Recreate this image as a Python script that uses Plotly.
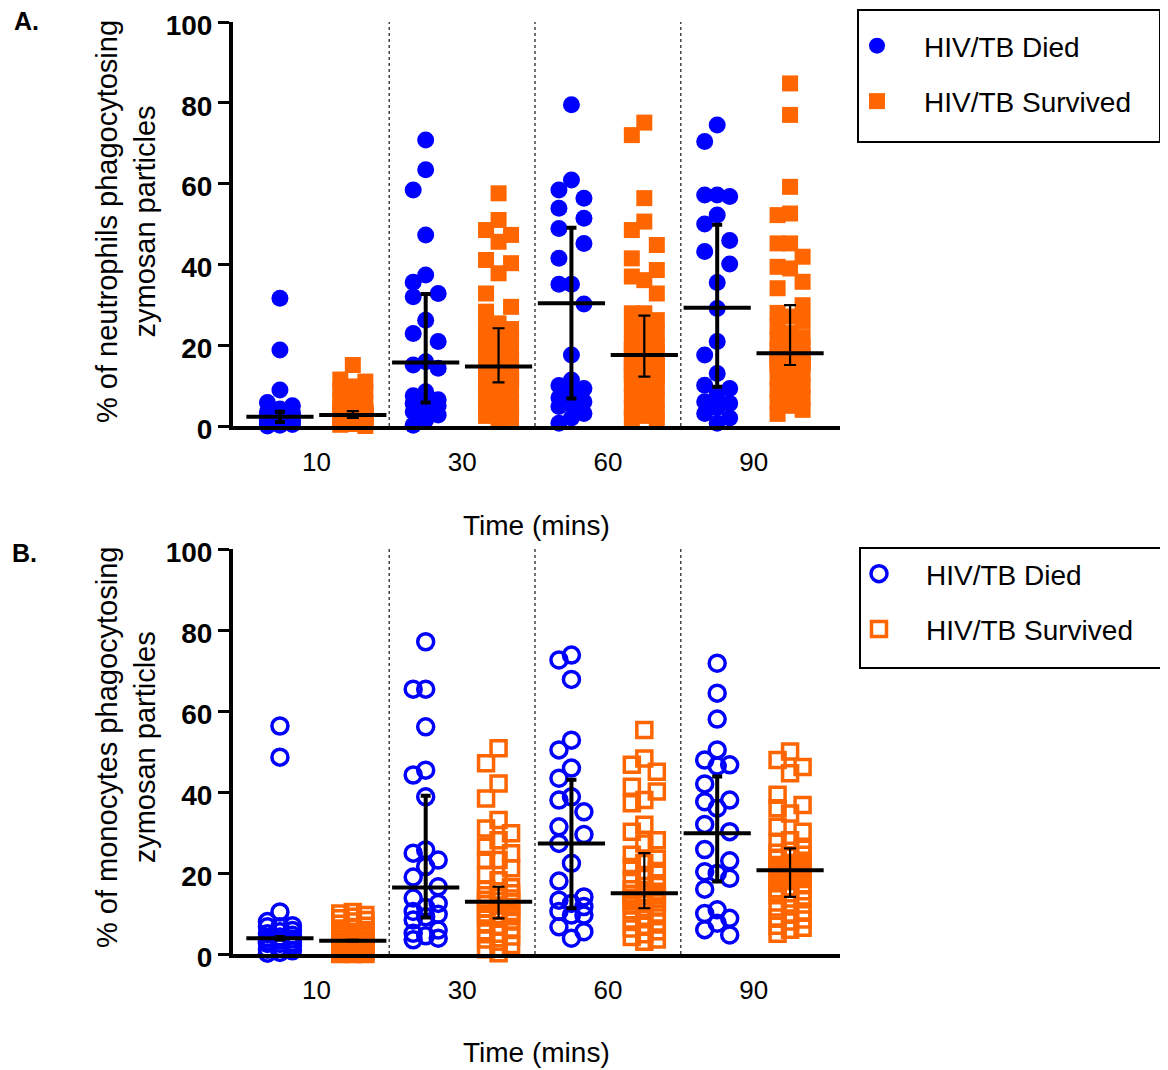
import numpy as np
import plotly.graph_objects as go

# ---------------- data ----------------
TIME_LABELS = ["10", "30", "60", "90"]
GROUP_NAMES = ["HIV/TB Died", "HIV/TB Survived"]

# Panel A: % of neutrophils phagocytosing zymosan particles
A_DIED_10 = [31.6, 18.8, 8.9, 5.8, 5.0, 4.2, 3.5, 3.2, 3.0, 2.8, 2.6, 2.4, 2.3, 2.1, 1.9, 1.7, 1.5, 1.3, 1.1, 1.0, 0.8, 0.6, 0.4, 0.2, 0.0]
A_DIED_30 = [70.8, 63.4, 58.4, 47.3, 37.4, 35.6, 32.8, 32.0, 26.2, 22.9, 20.9, 15.9, 15.1, 14.3, 8.5, 7.5, 6.5, 6.0, 5.6, 5.0, 4.0, 3.5, 2.7, 1.5, 0.2]
A_DIED_60 = [79.5, 60.9, 58.4, 56.4, 53.9, 51.4, 48.9, 45.2, 41.5, 35.1, 35.1, 30.2, 17.6, 11.4, 10.0, 9.3, 8.5, 7.0, 6.0, 5.2, 4.8, 3.1, 2.0, 0.7]
A_DIED_90 = [74.5, 70.4, 57.2, 56.8, 57.2, 52.2, 50.0, 45.9, 43.2, 40.1, 35.5, 29.1, 20.9, 17.6, 13.0, 10.1, 9.3, 8.0, 6.0, 5.6, 4.5, 3.1, 2.0, 0.7]

A_SURV_10 = [15.1, 11.5, 11.0, 9.8, 9.0, 8.5, 7.5, 6.5, 5.8, 5.0, 4.5, 4.0, 3.6, 3.5, 3.4, 3.3, 3.2, 3.1, 3.0, 2.95, 2.9, 2.85, 2.8, 2.75,
             2.7, 2.65, 2.6, 2.5, 2.45, 2.4, 2.3, 2.25, 2.2, 2.15, 2.1, 2.05, 2.0, 1.9, 1.8, 1.6, 1.5, 1.3, 1.2, 1.0, 0.8, 0.5, 0.3, 0.0]
A_SURV_30 = [57.6, 51.0, 48.5, 47.3, 45.6, 41.1, 40.3, 37.8, 32.8, 29.5, 28.3, 25.4, 24.6, 24.0, 23.0, 22.1, 21.5, 20.9, 20.0, 19.0, 18.0, 17.2, 16.3, 15.5,
             14.5, 14.0, 13.5, 13.0, 12.5, 12.2, 12.0, 11.8, 11.5, 11.2, 11.0, 10.9, 10.0, 9.0, 8.0, 7.0, 6.0, 5.0, 4.5, 4.0, 3.0, 2.5, 2.0, 1.0]
A_SURV_60 = [75.1, 72.0, 56.4, 50.6, 48.5, 44.8, 41.5, 38.6, 37.0, 36.1, 32.8, 27.9, 27.9, 26.2, 25.0, 24.0, 23.0, 21.7, 20.5, 20.0, 19.5, 19.0, 18.3, 17.5,
             17.0, 16.5, 16.0, 15.5, 15.0, 14.5, 14.0, 13.5, 13.0, 12.6, 12.3, 11.5, 10.5, 9.5, 8.5, 7.5, 6.5, 5.5, 4.5, 3.5, 2.5, 2.0, 1.5]
A_SURV_90 = [84.8, 77.0, 59.2, 52.6, 52.2, 45.2, 45.2, 41.9, 39.4, 39.0, 35.7, 34.1, 29.9, 28.0, 27.1, 26.0, 24.6, 23.0, 22.0, 21.5, 20.9, 19.6, 19.0, 17.8,
             17.5, 17.2, 17.0, 16.8, 16.5, 16.2, 16.0, 15.8, 15.5, 15.3, 15.1, 14.0, 13.0, 12.0, 11.0, 10.0, 9.0, 8.0, 7.0, 6.0, 5.0, 4.0, 3.0]

A_DIED_MEDIAN = [2.3, 15.7, 30.4, 29.3]
A_DIED_Q1 = [1.0, 5.8, 6.8, 9.7]
A_DIED_Q3 = [3.5, 32.7, 49.1, 49.8]
A_SURV_MEDIAN = [2.7, 14.7, 17.6, 18.0]
A_SURV_Q1 = [2.0, 10.8, 12.2, 15.1]
A_SURV_Q3 = [3.7, 24.2, 27.3, 29.9]

# Panel B: % of monocytes phagocytosing zymosan particles
B_DIED_10 = [56.3, 48.6, 10.4, 8.0, 7.0, 6.7, 6.7, 5.8, 5.5, 5.0, 4.6, 4.2, 3.9, 3.7, 3.4, 3.1, 2.8, 2.6, 2.6, 2.0, 1.6, 1.2, 0.8, 0.4, 0.2]
B_DIED_30 = [77.1, 65.4, 65.4, 56.1, 45.4, 44.2, 38.8, 25.7, 24.9, 23.2, 21.6, 19.0, 16.6, 13.8, 12.5, 11.5, 10.5, 9.8, 9.2, 8.4, 5.9, 5.1, 4.5, 3.9, 3.5]
B_DIED_60 = [73.8, 72.6, 67.8, 52.8, 50.4, 45.9, 43.4, 38.8, 38.0, 35.1, 31.4, 29.5, 27.3, 22.4, 18.0, 14.1, 13.3, 12.5, 11.7, 10.5, 9.6, 9.6, 6.7, 5.5, 3.9]
B_DIED_90 = [71.8, 64.4, 58.0, 50.4, 47.9, 46.7, 46.4, 42.0, 38.0, 37.6, 36.0, 32.0, 30.2, 25.8, 23.0, 20.3, 19.9, 18.7, 16.0, 10.9, 10.0, 8.8, 7.6, 6.0, 4.7]

B_SURV_10 = [10.4, 10.0, 9.6, 9.2, 8.8, 8.4, 8.0, 7.5, 7.0, 6.5, 6.0, 5.5, 5.0, 4.6, 4.3, 4.0, 3.8, 3.6, 3.5, 3.4, 3.3, 3.3, 3.2, 3.1,
             3.0, 2.9, 2.8, 2.7, 2.6, 2.5, 2.4, 2.3, 2.2, 2.0, 1.8, 1.6, 1.4, 1.2, 1.0, 0.8, 0.6, 0.4, 0.3, 0.2, 0.1, 0.0, 0.0, 0.0]
B_SURV_30 = [50.8, 47.1, 42.1, 38.4, 33.1, 31.0, 29.8, 28.1, 26.5, 24.9, 23.2, 23.2, 21.2, 19.5, 18.2, 16.5, 16.0, 15.5, 15.0, 14.5, 14.1, 13.7, 13.4, 13.1,
             12.7, 12.4, 12.0, 11.6, 11.2, 10.8, 10.4, 10.0, 9.6, 9.3, 9.0, 8.8, 8.3, 7.6, 7.0, 6.3, 5.6, 5.0, 4.3, 3.6, 3.0, 2.2, 1.2, 0.2]
B_SURV_60 = [55.3, 48.3, 46.7, 45.0, 41.3, 40.1, 38.0, 37.2, 31.9, 30.2, 28.1, 27.3, 24.5, 23.5, 22.5, 21.5, 20.5, 19.5, 18.5, 17.5, 16.8, 16.0, 15.4, 15.0,
             14.8, 14.5, 14.2, 13.9, 13.6, 13.3, 13.0, 12.7, 12.4, 12.0, 11.7, 11.4, 10.8, 10.0, 9.2, 8.5, 7.8, 7.0, 6.3, 5.6, 4.9, 4.2, 3.6, 3.0]
B_SURV_90 = [50.0, 47.9, 46.2, 44.6, 39.3, 36.8, 36.0, 34.7, 31.4, 30.2, 28.1, 27.5, 26.0, 25.5, 25.0, 24.5, 24.0, 23.5, 23.0, 22.5, 22.0, 21.5, 21.0, 20.5,
             20.0, 19.5, 19.0, 18.5, 18.0, 17.5, 17.0, 16.5, 16.0, 15.5, 15.0, 14.5, 13.5, 12.5, 11.5, 10.5, 10.0, 9.0, 8.5, 8.0, 7.0, 6.5, 6.0, 5.0]

B_DIED_MEDIAN = [3.9, 16.4, 27.3, 29.8]
B_DIED_Q1 = [3.6, 9.0, 11.3, 17.9]
B_DIED_Q3 = [4.2, 39.1, 43.0, 43.8]
B_SURV_MEDIAN = [3.3, 12.9, 15.0, 20.7]
B_SURV_Q1 = [3.1, 8.8, 11.3, 14.1]
B_SURV_Q3 = [3.5, 16.6, 24.9, 26.1]

# ---------------- styling ----------------
W, H = 1168, 1070
OFF = 8   # page body margin in the browser
BLUE = "#0000FF"
ORANGE = "#FF6600"
FONT = "Arial, Liberation Sans, sans-serif"


def fx(px):
    return (px - OFF) / W


def fy(py):
    return 1 - (py - OFF) / H


X_LEFT, X_RIGHT = 233, 840        # plot-area pixels in the reference
A_TOP, A_BOT = 22, 426
B_TOP, B_BOT = 549, 954
X_RANGE = [0.356, 8.685]
PX_PER_X = (X_RIGHT - X_LEFT) / (X_RANGE[1] - X_RANGE[0])


def swarm_offsets(values, px_per_y, step_px=12.5, max_k=1, min_dist=22.0):
    """Deterministic beeswarm: returns x offsets (axis units) for each value."""
    vals = np.asarray(values, dtype=float)
    order = np.argsort(-vals, kind="stable")
    slots = [0]
    for k in range(1, max_k + 1):
        slots += [-k, k]
    placed = []
    offs = np.zeros(len(vals))
    for i in order:
        yp = vals[i] * px_per_y
        best, bestd = 0, -1.0
        for s in slots:
            xp = s * step_px
            d = min((np.hypot(xp - a, yp - b) for a, b in placed), default=1e9)
            if d >= min_dist:
                best = s
                break
            if d > bestd:
                bestd, best = d, s
        placed.append((best * step_px, yp))
        offs[i] = best * step_px / PX_PER_X
    return offs


fig = go.Figure()

panels = [
    dict(xa="x", ya="y", legend="legend", top=A_TOP, bot=A_BOT,
         died=[A_DIED_10, A_DIED_30, A_DIED_60, A_DIED_90],
         surv=[A_SURV_10, A_SURV_30, A_SURV_60, A_SURV_90],
         dmed=A_DIED_MEDIAN, dq1=A_DIED_Q1, dq3=A_DIED_Q3,
         smed=A_SURV_MEDIAN, sq1=A_SURV_Q1, sq3=A_SURV_Q3,
         dsym="circle", ssym="square", dsize=17, ssize=16, lw=0),
    dict(xa="x2", ya="y2", legend="legend2", top=B_TOP, bot=B_BOT,
         died=[B_DIED_10, B_DIED_30, B_DIED_60, B_DIED_90],
         surv=[B_SURV_10, B_SURV_30, B_SURV_60, B_SURV_90],
         dmed=B_DIED_MEDIAN, dq1=B_DIED_Q1, dq3=B_DIED_Q3,
         smed=B_SURV_MEDIAN, sq1=B_SURV_Q1, sq3=B_SURV_Q3,
         dsym="circle-open", ssym="square-open", dsize=16, ssize=15, lw=3.5),
]

for p in panels:
    px_per_y = (p["bot"] - p["top"]) / 100.0
    for gi, (groups, color, sym, size) in enumerate([
            (p["died"], BLUE, p["dsym"], p["dsize"]),
            (p["surv"], ORANGE, p["ssym"], p["ssize"])]):
        xs, ys = [], []
        for ti, vals in enumerate(groups):
            base = 1 + 2 * ti + gi
            offs = swarm_offsets(vals, px_per_y)
            xs += list(base + offs)
            ys += list(vals)
        fig.add_trace(go.Scatter(
            x=xs, y=ys, mode="markers", name=GROUP_NAMES[gi],
            xaxis=p["xa"], yaxis=p["ya"], legend=p["legend"],
            legendgroup=p["legend"] + str(gi),
            cliponaxis=False,
            marker=dict(symbol=sym, size=size, color=color,
                        line=dict(width=p["lw"], color=color)),
        ))
    # medians + interquartile ranges
    for gi, (med, q1, q3, thick, cap) in enumerate([
            (p["dmed"], p["dq1"], p["dq3"], 4, 5),
            (p["smed"], p["sq1"], p["sq3"], 2.2, 6)]):
        med = np.array(med); q1 = np.array(q1); q3 = np.array(q3)
        fig.add_trace(go.Scatter(
            x=[1 + 2 * ti + gi for ti in range(4)], y=med,
            mode="markers", showlegend=False, hoverinfo="skip",
            xaxis=p["xa"], yaxis=p["ya"], cliponaxis=False,
            marker=dict(symbol="line-ew", size=48, color="black",
                        line=dict(width=4, color="black")),
            error_y=dict(type="data", symmetric=False, array=q3 - med,
                         arrayminus=med - q1, thickness=thick, width=cap,
                         color="black"),
        ))

# dotted separators between time points
shapes = []
for xa, ya in [("x", "y"), ("x2", "y2")]:
    for xv in [2.5, 4.5, 6.5]:
        shapes.append(dict(type="line", xref=xa, yref=ya, x0=xv, x1=xv, y0=0, y1=100,
                           line=dict(color="#444444", width=1.5, dash="dot"), layer="below"))

# legend borders
for (x0, y0, x1, y1) in [(858, 10, 1160, 142), (860, 548, 1162, 668)]:
    shapes.append(dict(type="rect", xref="paper", yref="paper",
                       x0=fx(x0), x1=fx(x1), y0=fy(y1), y1=fy(y0),
                       line=dict(color="black", width=2)))

annotations = []
annotations.append(dict(text="<b>A.</b>", x=fx(12), y=fy(21), xref="paper", yref="paper",
                        xanchor="left", yanchor="middle", showarrow=False,
                        font=dict(size=25, family=FONT, color="black")))
annotations.append(dict(text="<b>B.</b>", x=fx(10), y=fy(553), xref="paper", yref="paper",
                        xanchor="left", yanchor="middle", showarrow=False,
                        font=dict(size=25, family=FONT, color="black")))
for txt, yc in [("% of neutrophils phagocytosing<br>zymosan particles", 222),
                ("% of monocytes phagocytosing<br>zymosan particles", 748)]:
    annotations.append(dict(text=txt, x=fx(126), y=fy(yc), xref="paper", yref="paper",
                            xanchor="center", yanchor="middle", showarrow=False, textangle=-90,
                            font=dict(size=29, family=FONT, color="black")))
for yc in [525, 1052]:
    annotations.append(dict(text="Time (mins)", x=fx(536), y=fy(yc), xref="paper", yref="paper",
                            xanchor="center", yanchor="middle", showarrow=False,
                            font=dict(size=28, family=FONT, color="black")))

xaxis_common = dict(range=X_RANGE, showgrid=False, zeroline=False, showline=True,
                    linecolor="black", linewidth=4, ticks="", tickvals=[1.5, 3.5, 5.5, 7.5],
                    ticktext=TIME_LABELS, ticklabelstandoff=10, automargin=False,
                    ticklabeloverflow="allow",
                    tickfont=dict(size=26, family=FONT, color="black"))
yaxis_common = dict(range=[0, 100], showgrid=False, zeroline=False, showline=True,
                    linecolor="black", linewidth=4, ticks="outside", ticklen=11, tickwidth=3,
                    tickcolor="black", tickvals=[0, 20, 40, 60, 80, 100], automargin=False,
                    ticklabeloverflow="allow", ticklabelshift=3,
                    tickfont=dict(size=28, family=FONT, color="black", weight="bold"))

legend_common = dict(font=dict(size=28, family=FONT, color="black"), bgcolor="rgba(0,0,0,0)",
                     borderwidth=0, xanchor="left", yanchor="top", itemwidth=84,
                     tracegroupgap=16, itemclick=False)

fig.update_layout(
    width=W, height=H, margin=dict(l=0, r=0, t=0, b=0, autoexpand=False),
    paper_bgcolor="white", plot_bgcolor="white",
    font=dict(family=FONT, color="black"),
    xaxis=dict(domain=[fx(X_LEFT), fx(X_RIGHT)], anchor="y", **xaxis_common),
    yaxis=dict(domain=[fy(A_BOT), fy(A_TOP)], anchor="x", **yaxis_common),
    xaxis2=dict(domain=[fx(X_LEFT), fx(X_RIGHT)], anchor="y2", **xaxis_common),
    yaxis2=dict(domain=[fy(B_BOT), fy(B_TOP)], anchor="x2", **yaxis_common),
    legend=dict(x=fx(830), y=fy(21), **legend_common),
    legend2=dict(x=fx(832), y=fy(549), **legend_common),
    shapes=shapes, annotations=annotations,
    showlegend=True,
)

fig.write_html("out.html")
